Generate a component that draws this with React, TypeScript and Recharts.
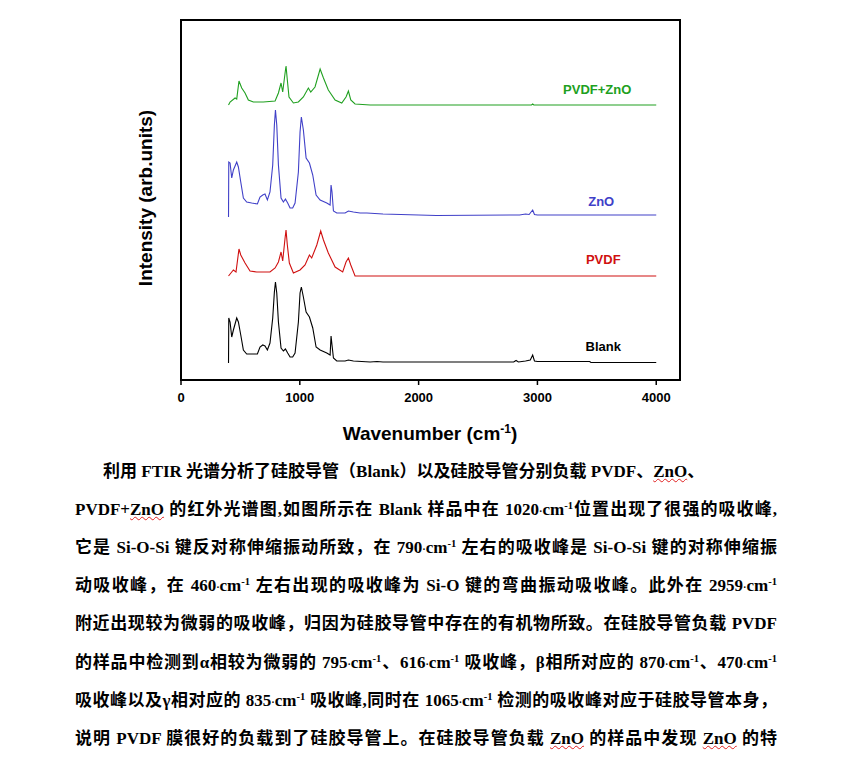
import React from 'react';
import { LineChart, Line, XAxis, YAxis, ReferenceArea, ReferenceDot } from 'recharts';

// wavenumber (cm-1), intensity (arb. units, curves stacked with offsets)
const blank: [number, number][] = [
    [400, 17], [402, 62], [413, 58], [427, 43], [441, 50], [469, 62], [483, 58], [503, 45], [525, 30], [553, 26],
    [643, 26], [665, 33], [688, 35], [707, 34], [727, 30], [749, 37], [772, 62], [786, 88], [795, 98], [806, 87],
    [820, 58], [842, 32], [862, 29], [879, 31], [898, 27], [918, 23], [940, 23], [960, 27], [988, 58], [1002, 87],
    [1013, 93], [1030, 83], [1053, 68], [1081, 63], [1109, 52], [1137, 33], [1171, 30], [1227, 27], [1255, 25],
    [1263, 44], [1271, 35], [1283, 22], [1311, 19], [1381, 19], [1409, 20], [1451, 19], [1592, 18], [1650, 18.5],
    [1700, 18], [2800, 18], [2820, 19.5], [2840, 18], [2900, 19], [2940, 20], [2960, 25], [2975, 19], [3000, 18.5],
    [3440, 18.5], [3450, 17.5], [4000, 17.5],
];

const pvdf: [number, number][] = [
    [400, 104], [427, 108], [441, 110], [463, 108], [488, 131], [503, 125], [539, 117], [581, 109], [637, 108],
    [749, 108], [792, 112], [820, 118], [842, 128], [856, 119], [876, 142], [884, 150], [895, 135], [912, 117],
    [946, 107], [1002, 110], [1044, 115], [1081, 125], [1100, 122], [1143, 135], [1176, 149], [1199, 140],
    [1240, 127], [1297, 113], [1361, 108], [1389, 118], [1409, 122], [1429, 115], [1465, 104], [1592, 104], [4000, 104],
];

const zno: [number, number][] = [
    [400, 163], [402, 218], [413, 217], [427, 202], [441, 210], [469, 218], [483, 213], [503, 198], [525, 182],
    [553, 178], [595, 177], [643, 176], [665, 183], [688, 185], [707, 186], [727, 180], [749, 188], [772, 215],
    [786, 255], [795, 270], [806, 255], [820, 215], [842, 182], [862, 178], [879, 181], [898, 177], [918, 172],
    [940, 172], [960, 177], [988, 208], [1002, 248], [1013, 263], [1030, 250], [1053, 222], [1081, 217],
    [1109, 205], [1137, 185], [1171, 180], [1227, 177], [1255, 175], [1263, 195], [1271, 188], [1283, 169],
    [1311, 167], [1381, 167], [1409, 169], [1451, 168], [1507, 167], [1564, 167], [1700, 166], [2000, 165],
    [2150, 164.5], [2850, 165], [2900, 166], [2930, 165.5], [2960, 170], [2975, 165.5], [3000, 165], [4000, 165],
];

const pvdfZno: [number, number][] = [
    [400, 275], [413, 278], [455, 282], [469, 281], [488, 299], [511, 292], [539, 287], [567, 280], [609, 278],
    [693, 278], [792, 279], [820, 287], [842, 297], [856, 288], [876, 307], [884, 314], [895, 300], [909, 283],
    [946, 277], [988, 278], [1030, 283], [1072, 292], [1092, 288], [1128, 293], [1171, 311], [1199, 302],
    [1240, 290], [1297, 280], [1353, 277], [1389, 283], [1409, 289], [1429, 280], [1465, 276], [1592, 275],
    [2950, 275], [2960, 276], [2970, 275], [4000, 275],
];

const xTicks = [0, 1000, 2000, 3000, 4000];

const series = [
    { name: 'Blank', points: blank, color: '#000000', label: [3554, 34] },
    { name: 'PVDF', points: pvdf, color: '#d01010', label: [3554, 121] },
    { name: 'ZnO', points: zno, color: '#4040c8', label: [3537, 179] },
    { name: 'PVDF+ZnO', points: pvdfZno, color: '#20a020', label: [3503, 291] },
];

const toRows = (pts: [number, number][]) => pts.map(([x, y]) => ({ x, y }));

const AxisTitle = () => (
    <text x={430} y={440} textAnchor="middle" fontFamily="Liberation Sans, Arial, sans-serif" fontWeight="bold" fontSize={19} fill="#000">
        Wavenumber (cm<tspan dy={-7} fontSize={12}>-1</tspan><tspan dy={7}>)</tspan>
    </text>
);

const Sup = ({ children }: { children: React.ReactNode }) => (
    <span style={{ fontSize: '0.62em', verticalAlign: '0.55em', lineHeight: 0 }}>{children}</span>
);
const Cm = () => (
    <>
        <span style={{ fontSize: '0.6em' }}>·</span>cm<Sup>-1</Sup>
    </>
);
const U = ({ children }: { children: React.ReactNode }) => (
    <span style={{ textDecorationLine: 'underline', textDecorationStyle: 'wavy', textDecorationColor: '#e02020', textDecorationThickness: 1 }}>
        {children}
    </span>
);

const paragraph: React.ReactNode[] = [
    <>利用 FTIR 光谱分析了硅胶导管（Blank）以及硅胶导管分别负载 PVDF、<U>ZnO</U>、</>,
    <>PVDF+<U>ZnO</U> 的红外光谱图,如图所示在 Blank 样品中在 1020<Cm />位置出现了很强的吸收峰,</>,
    <>它是 Si-O-Si 键反对称伸缩振动所致，在 790<Cm /> 左右的吸收峰是 Si-O-Si 键的对称伸缩振</>,
    <>动吸收峰，在 460<Cm /> 左右出现的吸收峰为 Si-O 键的弯曲振动吸收峰。此外在 2959<Cm /></>,
    <>附近出现较为微弱的吸收峰，归因为硅胶导管中存在的有机物所致。在硅胶导管负载 PVDF</>,
    <>的样品中检测到α相较为微弱的 795<Cm />、616<Cm /> 吸收峰，β相所对应的 870<Cm />、470<Cm /></>,
    <>吸收峰以及γ相对应的 835<Cm /> 吸收峰,同时在 1065<Cm /> 检测的吸收峰对应于硅胶导管本身，</>,
    <>说明 PVDF 膜很好的负载到了硅胶导管上。在硅胶导管负载 <U>ZnO</U> 的样品中发现 <U>ZnO</U> 的特</>,
];

export default function App() {
    return (
        <div style={{ position: 'absolute', left: 0, top: 0, width: 849, height: 768, background: '#fff', overflow: 'hidden' }}>
            <LineChart width={849} height={450} margin={{ top: 20, right: 169, left: 181, bottom: 40 }}>
                <XAxis
                    type="number"
                    dataKey="x"
                    domain={[0, 4200]}
                    ticks={xTicks}
                    allowDataOverflow
                    height={30}
                    axisLine={{ stroke: '#000', strokeWidth: 2 }}
                    tickLine={{ stroke: '#000', strokeWidth: 1.5 }}
                    tickSize={5}
                    tickMargin={8}
                    tick={{ fill: '#000', fontSize: 13, fontWeight: 'bold', fontFamily: 'Liberation Sans, Arial, sans-serif' }}
                    label={{ content: () => <AxisTitle /> }}
                />
                <YAxis type="number" domain={[0, 360]} hide />
                <ReferenceArea x1={0} x2={4200} y1={0} y2={360} fill="none" stroke="#000" strokeWidth={2} ifOverflow="visible" />
                {series.map((s) => (
                    <Line
                        key={s.name}
                        data={toRows(s.points)}
                        dataKey="y"
                        type="linear"
                        stroke={s.color}
                        strokeWidth={1.1}
                        dot={false}
                        activeDot={false}
                        isAnimationActive={false}
                    />
                ))}
                {series.map((s) => (
                    <ReferenceDot
                        key={'lbl-' + s.name}
                        x={s.label[0]}
                        y={s.label[1]}
                        r={0}
                        stroke="none"
                        fill="none"
                        label={{
                            value: s.name,
                            position: 'center',
                            fill: s.color,
                            fontSize: 13,
                            fontWeight: 'bold',
                            fontFamily: 'Liberation Sans, Arial, sans-serif',
                        }}
                    />
                ))}
            </LineChart>
            <div
                style={{
                    position: 'absolute',
                    left: 146,
                    top: 198,
                    transform: 'translate(-50%, -50%) rotate(-90deg)',
                    whiteSpace: 'nowrap',
                    fontFamily: 'Liberation Sans, Arial, sans-serif',
                    fontWeight: 'bold',
                    fontSize: 19,
                    color: '#000',
                }}
            >
                Intensity (arb.units)
            </div>
            {paragraph.map((line, i) => (
                <div
                    key={i}
                    style={{
                        position: 'absolute',
                        left: i === 0 ? 103 : 75,
                        top: 453 + i * 38.1,
                        width: i === 0 ? 660 : 702,
                        height: 38,
                        lineHeight: '38px',
                        fontFamily: '"Liberation Serif", "Noto Sans CJK SC", serif',
                        fontWeight: 'bold',
                        fontSize: 17,
                        color: '#000',
                        textAlign: i === 0 ? 'left' : 'justify',
                        textAlignLast: i === 0 ? 'auto' : 'justify',
                    }}
                >
                    {line}
                </div>
            ))}
        </div>
    );
}
